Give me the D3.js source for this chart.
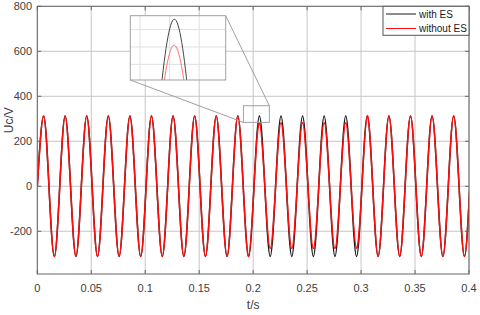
<!DOCTYPE html>
<html><head><meta charset="utf-8">
<script src="https://cdn.jsdelivr.net/npm/d3@7"></script>
<style>body{margin:0;background:#fff}text{font-family:"Liberation Sans",Arial,Helvetica,sans-serif}</style>
</head><body><svg id="c" width="480" height="315"></svg>
<script>
// ---- data ----
const xTicks = [0, 0.05, 0.1, 0.15, 0.2, 0.25, 0.3, 0.35, 0.4];
const yTicks = [-200, 0, 200, 400, 600, 800];
const insetXTicks = [0.2, 0.205, 0.21];
const insetYTicks = [260, 280, 300];
// time of the first extremum and the half-period between extrema (s)
const firstExtremumT = 0.0058;
const halfPeriod = 0.01;
// extremum values of each half cycle (V)
const withES = [
  312,-312, 312,-312, 312,-312, 312,-312, 312,-312,
  312,-312, 312,-312, 312,-312, 312,-312, 312,-312,
  312,-312, 312,-312, 312,-312, 312,-312, 312,-312,
  312,-312, 312,-312, 312,-312, 312,-312, 312,-312];
const withoutES = [
  312,-312, 312,-312, 312,-312, 312,-312, 312,-312,
  312,-312, 312,-312, 312,-312, 312,-312, 312,-312,
  282,-276, 282,-276, 282,-276, 282,-276, 282,-276,
  312,-312, 312,-312, 312,-312, 312,-312, 312,-312];
const seriesNames = ["with ES", "without ES"];
const zoomWindow = {t: [0.191, 0.215], u: [284, 358]};
const insetDomain = {t: [0.19835, 0.21448], u: [242, 316]};

// ---- build key points (zero crossings + extrema) ----
function keyPoints(vals) {
  const pts = [[0, 0]];
  vals.forEach((v, k) => {
    const t = firstExtremumT + k * halfPeriod;
    if (k > 0) pts.push([t - halfPeriod / 2, 0]);
    pts.push([t, v]);
  });
  pts.push([firstExtremumT + (vals.length - 1) * halfPeriod + halfPeriod / 2, 0]);
  return pts;
}
const dataWith = keyPoints(withES);
const dataWithout = keyPoints(withoutES);

const svg = d3.select("#c");
const L = 37.3, R = 469, T = 6.3, B = 274;
const x = d3.scaleLinear().domain([0, 0.4]).range([L, R]);
const y = d3.scaleLinear().domain([-390, 800]).range([B, T]);

const defs = svg.append("defs");
defs.append("clipPath").attr("id", "plotClip").append("rect")
  .attr("x", L).attr("y", T).attr("width", R - L).attr("height", B - T);

// grid
const grid = svg.append("g").attr("stroke", "#c6c6c6").attr("stroke-width", 1);
xTicks.forEach(t => grid.append("line").attr("x1", x(t)).attr("x2", x(t)).attr("y1", T).attr("y2", B));
yTicks.forEach(v => grid.append("line").attr("x1", L).attr("x2", R).attr("y1", y(v)).attr("y2", y(v)));

// lines
const line = d3.line().x(d => x(d[0])).y(d => y(d[1])).curve(d3.curveNatural);
const pg = svg.append("g").attr("clip-path", "url(#plotClip)");
pg.append("path").datum(dataWith).attr("d", line).attr("fill", "none").attr("stroke", "#1a1a1a").attr("stroke-width", 1.5);
pg.append("path").datum(dataWithout).attr("d", line).attr("fill", "none").attr("stroke", "#ff0d0d").attr("stroke-width", 1.5);

// zoom window rectangle
const zx0 = x(zoomWindow.t[0]), zx1 = x(zoomWindow.t[1]);
const zy0 = y(zoomWindow.u[1]), zy1 = y(zoomWindow.u[0]);
svg.append("rect").attr("x", zx0).attr("y", zy0).attr("width", zx1 - zx0).attr("height", zy1 - zy0)
  .attr("fill", "none").attr("stroke", "#a0a0a0").attr("stroke-width", 1);

// inset
const IL = 130.3, IR = 225.7, IT = 15.7, IB = 80;
const ix = d3.scaleLinear().domain(insetDomain.t).range([IL, IR]);
const iy = d3.scaleLinear().domain(insetDomain.u).range([IB, IT]);
svg.append("line").attr("x1", IL).attr("y1", IB).attr("x2", zx0).attr("y2", zy1).attr("stroke", "#a0a0a0");
svg.append("line").attr("x1", IR).attr("y1", IT).attr("x2", zx1).attr("y2", zy0).attr("stroke", "#a0a0a0");
svg.append("rect").attr("x", IL).attr("y", IT).attr("width", IR - IL).attr("height", IB - IT).attr("fill", "#fff");
defs.append("clipPath").attr("id", "insetClip").append("rect")
  .attr("x", IL).attr("y", IT).attr("width", IR - IL).attr("height", IB - IT);
const ig = svg.append("g").attr("stroke", "#e0e0e0").attr("stroke-width", 1);
insetXTicks.forEach(t => ig.append("line").attr("x1", ix(t)).attr("x2", ix(t)).attr("y1", IT).attr("y2", IB));
insetYTicks.forEach(v => ig.append("line").attr("x1", IL).attr("x2", IR).attr("y1", iy(v)).attr("y2", iy(v)));
const iline = d3.line().x(d => ix(d[0])).y(d => iy(d[1])).curve(d3.curveNatural);
const ipg = svg.append("g").attr("clip-path", "url(#insetClip)");
ipg.append("path").datum(dataWith).attr("d", iline).attr("fill", "none").attr("stroke", "#444").attr("stroke-width", 1);
ipg.append("path").datum(dataWithout).attr("d", iline).attr("fill", "none").attr("stroke", "#ff7070").attr("stroke-width", 1);
svg.append("rect").attr("x", IL).attr("y", IT).attr("width", IR - IL).attr("height", IB - IT)
  .attr("fill", "none").attr("stroke", "#a0a0a0").attr("stroke-width", 1);

// axes box + ticks
const ax = svg.append("g").attr("stroke", "#666").attr("stroke-width", 1);
ax.append("rect").attr("x", L).attr("y", T).attr("width", R - L).attr("height", B - T).attr("fill", "none");
xTicks.forEach(t => {
  ax.append("line").attr("x1", x(t)).attr("x2", x(t)).attr("y1", B).attr("y2", B - 4);
  ax.append("line").attr("x1", x(t)).attr("x2", x(t)).attr("y1", T).attr("y2", T + 4);
});
yTicks.forEach(v => {
  ax.append("line").attr("x1", L).attr("x2", L + 4).attr("y1", y(v)).attr("y2", y(v));
  ax.append("line").attr("x1", R).attr("x2", R - 4).attr("y1", y(v)).attr("y2", y(v));
});

const lab = svg.append("g").attr("fill", "#404040").attr("font-size", 11);
xTicks.forEach(t => lab.append("text").attr("x", x(t)).attr("y", 292).attr("text-anchor", "middle").text(d3.format("~g")(t)));
yTicks.forEach(v => lab.append("text").attr("x", 32).attr("y", y(v) + 4).attr("text-anchor", "end").text(v));
svg.append("text").attr("x", x(0.2)).attr("y", 309).attr("text-anchor", "middle").attr("font-size", 12).attr("fill", "#404040").text("t/s");
svg.append("text").attr("transform", `translate(13,${(T + B) / 2 - 20}) rotate(-90)`).attr("text-anchor", "middle")
  .attr("font-size", 12).attr("fill", "#404040").text("Uc/V");

// legend
const lg = svg.append("g");
lg.append("rect").attr("x", 383).attr("y", T).attr("width", R - 383).attr("height", 29)
  .attr("fill", "#fff").attr("stroke", "#555").attr("stroke-width", 1);
const colors = ["#1a1a1a", "#ff0d0d"];
seriesNames.forEach((n, i) => {
  const yy = 14 + i * 14.5;
  lg.append("line").attr("x1", 386).attr("x2", 416).attr("y1", yy).attr("y2", yy).attr("stroke", colors[i]).attr("stroke-width", 1);
  lg.append("text").attr("x", 419).attr("y", yy + 3.5).attr("font-size", 10).attr("fill", "#1a1a1a").text(n);
});
</script></body></html>
